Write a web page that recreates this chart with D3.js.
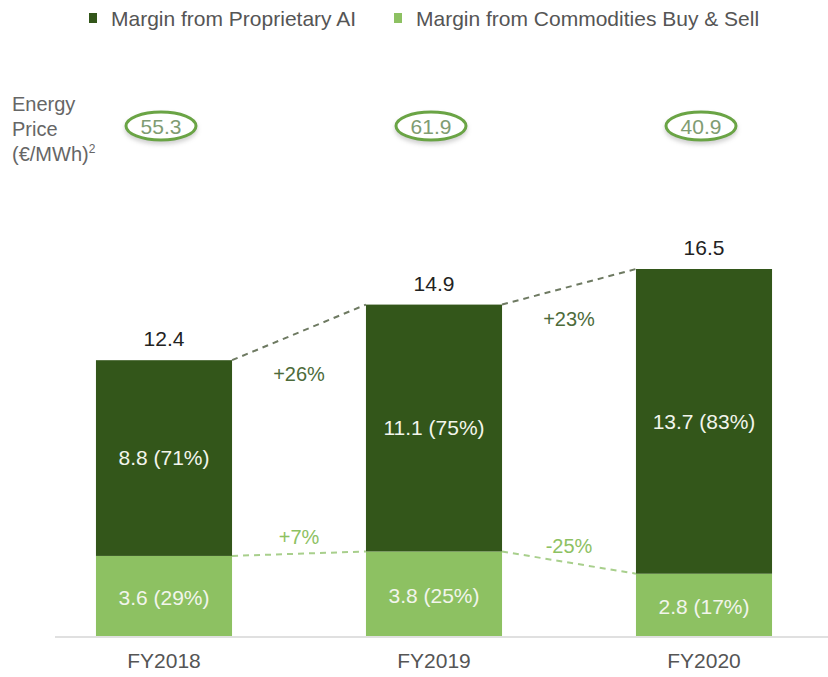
<!DOCTYPE html>
<html>
<head>
<meta charset="utf-8">
<script src="https://cdn.jsdelivr.net/npm/d3@7"></script>
<style>
  body { margin: 0; background: #fff; }
  svg text { font-family: "Liberation Sans", Arial, sans-serif; }
</style>
</head>
<body>
<div id="chart"></div>
<script>
// data
var years = ["FY2018", "FY2019", "FY2020"];
var proprietary = [8.8, 11.1, 13.7];
var commodities = [3.6, 3.8, 2.8];
var propShare = ["71%", "75%", "83%"];
var commShare = ["29%", "25%", "17%"];
var energyPrice = [55.3, 61.9, 40.9];
var growthProp = ["+26%", "+23%"];
var growthComm = ["+7%", "-25%"];
var seriesNames = ["Margin from Proprietary AI", "Margin from Commodities Buy & Sell"];

var width = 828, height = 677;
var darkGreen = "#33561a", lightGreen = "#8dc162";

var svg = d3.select("#chart").append("svg").attr("width", width).attr("height", height);

var defs = svg.append("defs");
defs.append("filter").attr("id", "shadow")
  .attr("x", "-20%").attr("y", "-30%").attr("width", "140%").attr("height", "180%")
  .append("feDropShadow").attr("dx", 0).attr("dy", 3).attr("stdDeviation", 2)
  .attr("flood-color", "#999").attr("flood-opacity", 0.45);

var table = years.map(function(y, i) {
  return { year: y, prop: proprietary[i], comm: commodities[i] };
});
var stacked = d3.stack().keys(["comm", "prop"])(table);

var x = d3.scaleBand().domain(years).range([29, 839]).paddingInner(0.496).paddingOuter(0.248);
var y = d3.scaleLinear().domain([0, 16.5]).range([636, 269]);
var color = d3.scaleOrdinal().domain(["prop", "comm"]).range([darkGreen, lightGreen]);

// legend
var legend = svg.append("g");
[0, 1].forEach(function(i) {
  var lx = i == 0 ? 89 : 394;
  legend.append("rect").attr("x", lx).attr("y", 13).attr("width", 8).attr("height", 10)
    .attr("fill", i == 0 ? darkGreen : lightGreen);
  legend.append("text").attr("x", lx + 22).attr("y", 26)
    .attr("font-size", 21).attr("fill", "#555").text(seriesNames[i]);
});

// energy price row
var ep = svg.append("g");
["Energy", "Price", "(€/MWh)"].forEach(function(t, i) {
  var tx = ep.append("text").attr("x", 12).attr("y", 111 + i * 25)
    .attr("font-size", 20).attr("fill", "#666").text(t);
  if (i == 2) tx.append("tspan").attr("font-size", 12).attr("dy", -8).text("2");
});
ep.selectAll("ellipse").data(energyPrice).enter().append("ellipse")
  .attr("cx", function(d, i) { return x(years[i]) + x.bandwidth() / 2 - 3; })
  .attr("cy", 126)
  .attr("rx", 35).attr("ry", 14)
  .attr("fill", "#fff").attr("stroke", "#6aa444").attr("stroke-width", 3)
  .attr("filter", "url(#shadow)");
ep.selectAll("text.price").data(energyPrice).enter().append("text").attr("class", "price")
  .attr("x", function(d, i) { return x(years[i]) + x.bandwidth() / 2 - 3; })
  .attr("y", 126).attr("dy", "0.36em").attr("text-anchor", "middle")
  .attr("font-size", 21).attr("fill", "#809c72")
  .text(function(d) { return d.toFixed(1); });

// baseline
svg.append("line").attr("x1", 55).attr("x2", 828).attr("y1", 637).attr("y2", 637)
  .attr("stroke", "#e0e0e0").attr("stroke-width", 2);

// bars
var layers = svg.selectAll("g.layer").data(stacked).enter().append("g").attr("class", "layer")
  .attr("fill", function(d) { return color(d.key); });
layers.selectAll("rect").data(function(d) { return d; }).enter().append("rect")
  .attr("x", function(d) { return x(d.data.year); })
  .attr("width", x.bandwidth())
  .attr("y", function(d) { return y(d[1]); })
  .attr("height", function(d) { return y(d[0]) - y(d[1]); });

layers.selectAll("text").data(function(d) { return d.map(function(v) { v.key = d.key; return v; }); })
  .enter().append("text")
  .attr("x", function(d) { return x(d.data.year) + x.bandwidth() / 2; })
  .attr("y", function(d, i) { return d.key == "comm" ? y((d[0] + d[1]) / 2) + 2 : y((d[0] + d[1]) / 2); })
  .attr("dy", "0.35em").attr("text-anchor", "middle")
  .attr("font-size", 21).attr("fill", "#f2f5ec")
  .text(function(d, i) {
    return d.key == "prop" ? proprietary[i].toFixed(1) + " (" + propShare[i] + ")"
                           : commodities[i].toFixed(1) + " (" + commShare[i] + ")";
  });

// totals
svg.selectAll("text.total").data(table).enter().append("text").attr("class", "total")
  .attr("x", function(d) { return x(d.year) + x.bandwidth() / 2; })
  .attr("y", function(d) { return y(d.prop + d.comm) - 14; })
  .attr("text-anchor", "middle").attr("font-size", 21).attr("fill", "#222")
  .text(function(d) { return (d.prop + d.comm).toFixed(1); });

// connectors between bars
var pairs = d3.pairs(table);
svg.selectAll("line.conn-top").data(pairs).enter().append("line").attr("class", "conn-top")
  .attr("x1", function(p) { return x(p[0].year) + x.bandwidth(); })
  .attr("y1", function(p) { return y(p[0].prop + p[0].comm); })
  .attr("x2", function(p) { return x(p[1].year); })
  .attr("y2", function(p) { return y(p[1].prop + p[1].comm); })
  .attr("stroke", "#6e7a62").attr("stroke-width", 2).attr("stroke-dasharray", "6,5");
svg.selectAll("line.conn-bot").data(pairs).enter().append("line").attr("class", "conn-bot")
  .attr("x1", function(p) { return x(p[0].year) + x.bandwidth(); })
  .attr("y1", function(p) { return y(p[0].comm); })
  .attr("x2", function(p) { return x(p[1].year); })
  .attr("y2", function(p) { return y(p[1].comm); })
  .attr("stroke", "#a8cf8c").attr("stroke-width", 2).attr("stroke-dasharray", "6,5");

svg.selectAll("text.g-top").data(pairs).enter().append("text").attr("class", "g-top")
  .attr("x", function(p) { return (x(p[0].year) + x.bandwidth() + x(p[1].year)) / 2; })
  .attr("y", function(p) { return y(p[0].prop + p[0].comm) + 21; })
  .attr("text-anchor", "middle").attr("font-size", 20).attr("fill", "#4d6b3a")
  .text(function(p, i) { return growthProp[i]; });
svg.selectAll("text.g-bot").data(pairs).enter().append("text").attr("class", "g-bot")
  .attr("x", function(p) { return (x(p[0].year) + x.bandwidth() + x(p[1].year)) / 2; })
  .attr("y", function(p) { return (y(p[0].comm) + y(p[1].comm)) / 2 - 10; })
  .attr("text-anchor", "middle").attr("font-size", 20).attr("fill", "#8dc162")
  .text(function(p, i) { return growthComm[i]; });

// x axis labels
var xAxis = svg.append("g").attr("transform", "translate(0,645)")
  .call(d3.axisBottom(x).tickSize(0).tickPadding(8));
xAxis.select(".domain").remove();
xAxis.selectAll("text").attr("font-size", 21).attr("fill", "#555")
  .attr("font-family", "Liberation Sans, Arial, sans-serif");
</script>
</body>
</html>
